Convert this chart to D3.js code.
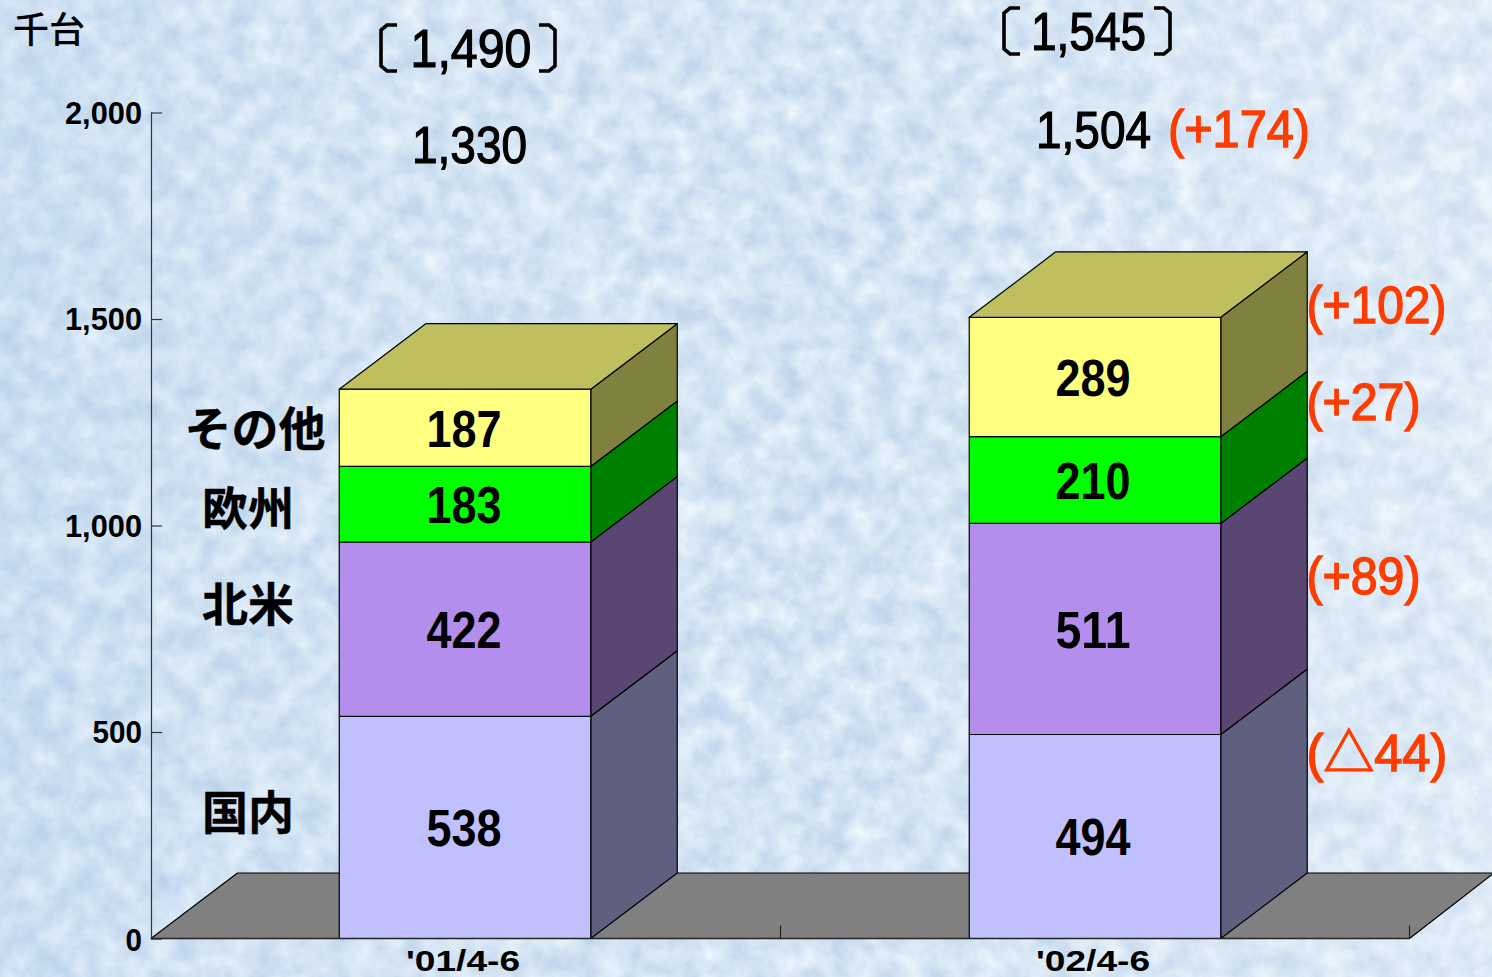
<!DOCTYPE html>
<html lang="ja"><head><meta charset="utf-8">
<script src="https://cdn.jsdelivr.net/npm/d3@7/dist/d3.min.js"></script>
<style>
html,body{margin:0;padding:0;background:#d8e7f6;overflow:hidden}
svg{display:block}
text{font-family:"Liberation Sans","Noto Sans CJK JP",sans-serif}
.cjk{font-family:"Noto Sans CJK JP",sans-serif}
</style></head><body>
<svg id="c" width="1492" height="977"></svg>
<script>
const categories=["'01/4-6","'02/4-6"];
const seriesNames=["国内","北米","欧州","その他"];
const domestic=[538,494];
const northAmerica=[422,511];
const europe=[183,210];
const others=[187,289];
const seriesValues=[domestic,northAmerica,europe,others];
const totals=["1,330","1,504"];
const bracketTotals=["1,490","1,545"];
const totalChange="(+174)";
const seriesChanges=["(△44)","(+89)","(+27)","(+102)"];
const yTicks=[0,500,1000,1500,2000];

const frontColors=["#C0C0FF","#B48EEC","#00FF00","#FFFF80"];
const sideColors=["#5F5F7F","#5A4672","#008000","#80803F"];
const topColor="#C0BF60";
const W=1492,H=977;
const svg=d3.select("#c");
const defs=svg.append("defs");
const f=defs.append("filter").attr("id","tex").attr("x",0).attr("y",0).attr("width","100%").attr("height","100%").attr("color-interpolation-filters","sRGB");
f.append("feTurbulence").attr("type","fractalNoise").attr("baseFrequency","0.04").attr("numOctaves",6).attr("seed",7).attr("result","n");
f.append("feColorMatrix").attr("in","n").attr("type","matrix")
 .attr("values","0.26 0 0 0 0.70  0.19 0 0 0 0.80  0.10 0 0 0 0.905  0 0 0 0 1");
const g0=defs.append("linearGradient").attr("id","lift").attr("x1",0).attr("x2",1).attr("y1",0).attr("y2",0);
g0.append("stop").attr("offset",0).attr("stop-color","#a9c8ea").attr("stop-opacity",.2);
g0.append("stop").attr("offset",.55).attr("stop-color","#ffffff").attr("stop-opacity",0);
g0.append("stop").attr("offset",1).attr("stop-color","#ffffff").attr("stop-opacity",.25);
svg.append("rect").attr("width",W).attr("height",H).attr("filter","url(#tex)");
svg.append("rect").attr("width",W).attr("height",H).attr("fill","url(#lift)");

const y=d3.scaleLinear().domain([0,2000]).range([938.5,112.5]);
const x=d3.scaleBand().domain(categories).range([150,1410]).paddingInner(0).paddingOuter(0);
const barW=251.5, dx=86.5, dy=-65.5;
const line=d3.line();
const poly=(pts,fill,sw=1.2)=>svg.append("path").attr("d",line(pts)+"Z").attr("fill",fill).attr("stroke","#000").attr("stroke-width",sw).attr("stroke-linejoin","round");

// floor
const y0=y(0);
poly([[151,y0],[151+dx,y0+dy],[1494,y0+dy],[1409.5,y0]],"#808080");

// bars
categories.forEach((c,ci)=>{
  const cx=x(c)+x.bandwidth()/2;
  const L=cx-barW/2,R=cx+barW/2;
  let cum=0;
  seriesValues.forEach((vals,si)=>{
    const a=y(cum),b=y(cum+vals[ci]);
    poly([[R,a],[R+dx,a+dy],[R+dx,b+dy],[R,b]],sideColors[si]);
    poly([[L,a],[R,a],[R,b],[L,b]],frontColors[si]);
    svg.append("text").attr("x",cx-1-(ci?1:0)).attr("y",(a+b)/2+1).attr("dy","0.35em")
      .attr("text-anchor","middle").attr("font-size",51).attr("font-weight",700).attr("fill","#000")
      .attr("textLength",75).attr("lengthAdjust","spacingAndGlyphs").text(vals[ci]);
    cum+=vals[ci];
  });
  const t=y(cum);
  poly([[L,t],[R,t],[R+dx,t+dy],[L+dx,t+dy]],topColor);
});

// axes
const widthOf=s=>[...String(s)].reduce((w,ch)=>w+(ch===","?11:16.5),0);
const ya=d3.axisLeft(y).tickValues(yTicks).tickSize(-11).tickPadding(0).tickFormat(d3.format(","));
const yg=svg.append("g").attr("transform","translate(151,0)").call(ya);
yg.select(".domain").attr("stroke","#333").attr("stroke-width",1.2).attr("d",`M0.5,${y(2000)}V${y(0)}`);
yg.selectAll(".tick line").attr("stroke","#333").attr("stroke-width",1.2);
yg.selectAll(".tick text").attr("x",-9).attr("y",d=>d===0?1:0).attr("dy","0.35em").attr("text-anchor","end")
  .attr("font-family",'"Liberation Sans"').attr("font-size",31).attr("font-weight",700).attr("fill","#000")
  .attr("textLength",d=>widthOf(d3.format(",")(d))).attr("lengthAdjust","spacingAndGlyphs");

const xa=d3.axisBottom(x).tickSize(0).tickPadding(0);
const xg=svg.append("g").attr("transform",`translate(0,${y0})`).call(xa);
xg.select(".domain").attr("stroke","#222").attr("stroke-width",1.5).attr("d","M151,0H1409.5");
xg.selectAll(".tick text").attr("y",32.5).attr("dy",0).attr("text-anchor","middle")
  .attr("font-family",'"Liberation Sans"').attr("font-size",29).attr("font-weight",700).attr("fill","#000")
  .attr("textLength",114).attr("lengthAdjust","spacingAndGlyphs");
xg.selectAll(".tick").attr("transform",d=>`translate(${x(d)+x.bandwidth()/2-2},0)`);
[780.5,1409.5].forEach(p=>xg.append("line").attr("x1",p).attr("x2",p).attr("y1",0).attr("y2",-13).attr("stroke","#222").attr("stroke-width",1.2));

const T=(s,px,py,size,o={})=>{
  const t=svg.append("text").attr("x",px).attr("y",py).attr("font-size",size)
  .attr("text-anchor",o.anchor||"start").attr("fill",o.fill||"#000").attr("font-weight",o.w||400)
  .attr("class",o.cls||null).attr("stroke",o.sw?(o.fill||"#000"):null).attr("stroke-width",o.sw||null).text(s);
  if(o.len) t.attr("textLength",o.len).attr("lengthAdjust","spacingAndGlyphs");
  return t;
};

T("千台",13,43,36,{cls:"cjk",w:500});
// brackets and totals
[[471,67,468,87],[1088.5,50,1087,83]].forEach((p,i)=>{
  const [px,py,bc,hw]=p;
  T(bracketTotals[i],px,py,53,{anchor:"middle",len:i?115:121,sw:1.2});
  const top=py-42, bot=py+4, arm=16;
  [-1,1].forEach(s=>{
    const e=bc+s*hw, n=e-s*arm;
    svg.append("path").attr("d",`M${n},${top}L${e-s*6},${top}L${e},${top+5}V${bot-5}L${e-s*6},${bot}H${n}`).attr("fill","none").attr("stroke","#000").attr("stroke-width",3.6);
  });
});
T(totals[0],469.5,163,52,{anchor:"middle",len:115,sw:1.2});
T(totals[1],1093.5,148,52,{anchor:"middle",len:115,sw:1.2});
const RED="#FF3C00";
T(totalChange,1168,147,51,{fill:RED,len:142,sw:1.4});
[[771,141],[594,114],[420,114],[322.5,140]].forEach((p,i)=>T(seriesChanges[i],1306.5,p[0],51,{fill:RED,len:p[1],sw:1.4}));

// series labels
[[248,829],[248,621],[248,525],[255,446]].forEach((p,i)=>T(seriesNames[i],p[0],p[1],i===3?47:46,{anchor:"middle",cls:"cjk",w:700,sw:.4}));
</script>
</body></html>
